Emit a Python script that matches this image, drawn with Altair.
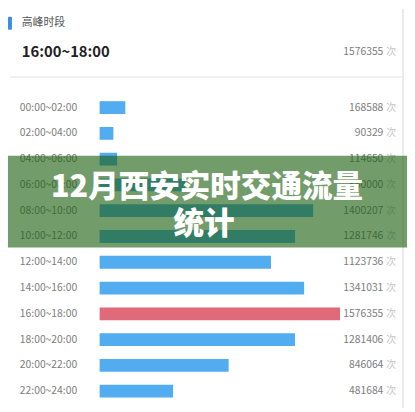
import altair as alt
import pandas as pd

# 时段与车流量（次）
slots = ["00:00~02:00", "02:00~04:00", "04:00~06:00", "06:00~08:00",
         "08:00~10:00", "10:00~12:00", "12:00~14:00", "14:00~16:00",
         "16:00~18:00", "18:00~20:00", "20:00~22:00", "22:00~24:00"]
flows = [168588, 90329, 114650, 560000, 1400207, 1281746,
         1123736, 1341031, 1576355, 1281406, 846064, 481684]

header_label = "高峰时段"
unit = "次"
title_lines = ["12月西安实时交通流量", "统计"]

df = pd.DataFrame({"slot": slots, "flow": flows})
df["flow_text"] = df["flow"].astype(str)
df["unit"] = unit

peak = df.loc[df["flow"].idxmax()]
peak_df = pd.DataFrame({"slot": [peak["slot"]], "flow_text": [str(peak["flow"])], "unit": [unit]})
one = pd.DataFrame({"k": [0]})

FONT = "Noto Sans CJK SC"
BLUE = "#52acf0"
RED = "#e2697a"

y_scale = alt.Scale(domain=slots, range=[85, 399], paddingInner=0.5, paddingOuter=0.25)
y_enc = alt.Y("slot:N", sort=slots, scale=y_scale, axis=None)

bars = alt.Chart(df).mark_bar(size=13).encode(
    x=alt.X("flow:Q", scale=alt.Scale(domain=[0, int(peak["flow"])], range=[93, 337]), axis=None),
    y=y_enc,
    color=alt.condition(alt.datum.slot == peak["slot"], alt.value(RED), alt.value(BLUE)),
)

row_labels = alt.Chart(df).mark_text(align="left", baseline="middle", font=FONT,
                                      fontSize=10.5, color="#7d7d7d").encode(
    x=alt.value(12), y=y_enc, text="slot:N")

values = alt.Chart(df).mark_text(align="right", baseline="middle", font=FONT,
                                 fontSize=10.5, color="#7d7d7d").encode(
    x=alt.value(381), y=y_enc, text="flow_text:N")

units = alt.Chart(df).mark_text(align="left", baseline="middle", font=FONT,
                                fontSize=10, color="#c4c4c4").encode(
    x=alt.value(384), y=y_enc, text="unit:N")

# 头部
marker = alt.Chart(one).mark_rect(color="#3b8fe2", cornerRadius=1).encode(
    x=alt.value(0), x2=alt.value(4), y=alt.value(6), y2=alt.value(19))
head_label = alt.Chart(one).mark_text(align="left", baseline="middle", font=FONT,
                                      fontSize=11, color="#555").encode(
    x=alt.value(14), y=alt.value(12), text=alt.value(header_label))
head_slot = alt.Chart(peak_df).mark_text(align="left", baseline="middle", font=FONT,
                                         fontSize=15, fontWeight="bold", color="#222").encode(
    x=alt.value(14), y=alt.value(42), text="slot:N")
head_val = alt.Chart(peak_df).mark_text(align="right", baseline="middle", font=FONT,
                                        fontSize=10.5, color="#7d7d7d").encode(
    x=alt.value(381), y=alt.value(42), text="flow_text:N")
head_unit = alt.Chart(peak_df).mark_text(align="left", baseline="middle", font=FONT,
                                         fontSize=10, color="#c4c4c4").encode(
    x=alt.value(384), y=alt.value(42), text="unit:N")
sep = alt.Chart(one).mark_rule(color="#ececec", strokeWidth=1.5).encode(
    x=alt.value(2), x2=alt.value(400), y=alt.value(67))
border = alt.Chart(one).mark_rule(color="#e4e4e4", strokeWidth=1.5).encode(
    x=alt.value(401), y=alt.value(-2), y2=alt.value(404))

# 标题遮罩
band = alt.Chart(one).mark_rect(color="#1d6010", opacity=0.62).encode(
    x=alt.value(0), x2=alt.value(407), y=alt.value(147), y2=alt.value(240))
title1 = alt.Chart(one).mark_text(align="center", baseline="middle", font=FONT,
                                  fontSize=31, fontWeight=900, color="white").encode(
    x=alt.value(202), y=alt.value(180), text=alt.value(title_lines[0]))
title2 = alt.Chart(one).mark_text(align="center", baseline="middle", font=FONT,
                                  fontSize=31, fontWeight=900, color="white").encode(
    x=alt.value(199), y=alt.value(217), text=alt.value(title_lines[1]))

chart = alt.layer(
    border, sep, marker, head_label, head_slot, head_val, head_unit,
    bars, row_labels, values, units, band, title1, title2,
).properties(
    width=405, height=400, autosize=alt.AutoSizeParams(type="none"), padding=0,
    background="white",
).configure_view(stroke=None)

chart.save("out.html", embed_options={"renderer": "svg", "actions": False})
